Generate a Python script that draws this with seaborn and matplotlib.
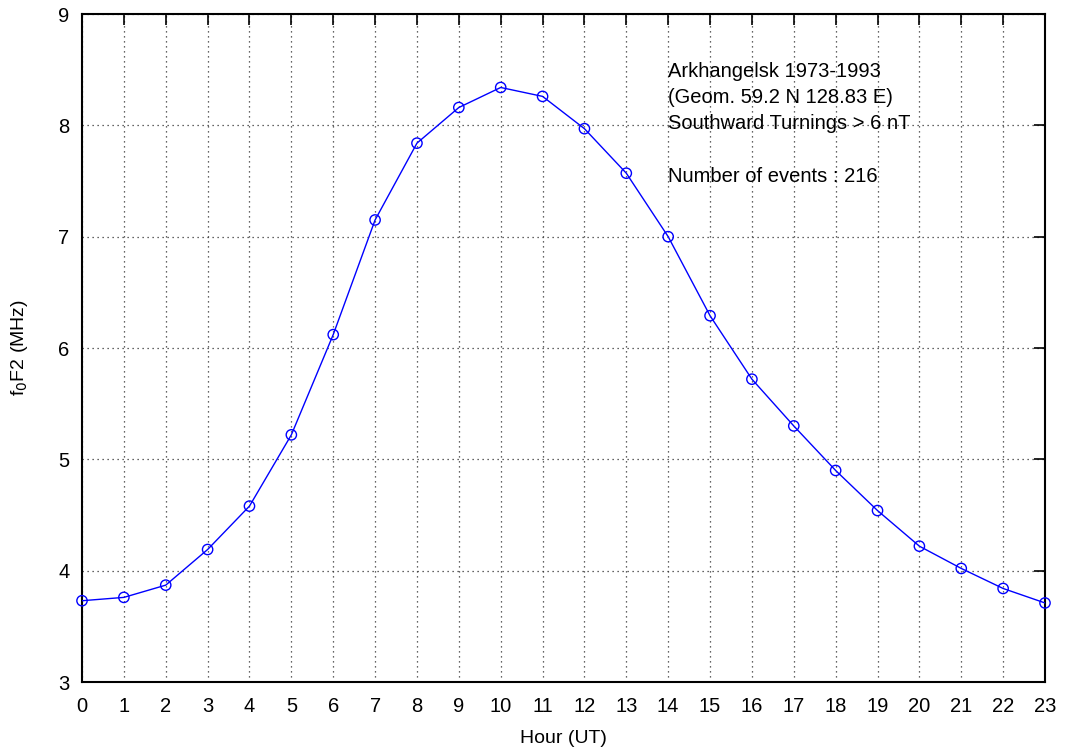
import numpy as np
import pandas as pd
import matplotlib
matplotlib.use("Agg")
import matplotlib.pyplot as plt
import seaborn as sns

hours = list(range(24))
fof2 = [3.73, 3.76, 3.87, 4.19, 4.58, 5.22, 6.12, 7.15, 7.84, 8.16, 8.34, 8.26,
        7.97, 7.57, 7.00, 6.29, 5.72, 5.30, 4.90, 4.54, 4.22, 4.02, 3.84, 3.71]
info_lines = ["Arkhangelsk 1973-1993", "(Geom. 59.2 N 128.83 E)",
              "Southward Turnings > 6 nT", "", "Number of events : 216"]

sns.set_theme(style="white")
plt.rcParams['font.family'] = ['Liberation Sans', 'DejaVu Sans']
plt.rcParams['text.color'] = 'black'
plt.rcParams['axes.labelcolor'] = 'black'
plt.rcParams['xtick.color'] = 'black'
plt.rcParams['ytick.color'] = 'black'

df = pd.DataFrame({"hour": hours, "fof2": fof2})

fig = plt.figure(figsize=(10.69, 7.53), dpi=100)
ax = fig.add_axes([82/1069, 1 - 682/753, (1045-82)/1069, (682-14)/753])

sns.lineplot(data=df, x="hour", y="fof2", ax=ax, color="#0000ff", linewidth=1.0,
             zorder=3)
sns.scatterplot(data=df, x="hour", y="fof2", ax=ax, marker="o", s=55,
                facecolors="none", edgecolor="#0000ff", linewidth=1.0,
                zorder=4, clip_on=False)

ax.set_xlim(0, 23)
ax.set_ylim(3, 9)
ax.set_xticks(hours)
ax.set_yticks(range(3, 10))
ax.tick_params(axis="both", direction="in", length=8, width=1.2, labelsize=14.5,
               top=True, right=True, colors="black")
ax.tick_params(axis="x", pad=11)
ax.tick_params(axis="y", pad=9)
ax.grid(True, linestyle=(0, (1, 3)), color="#333333", linewidth=0.9)
for s in ax.spines.values():
    s.set_color("black")
    s.set_linewidth(1.5)
    s.set_visible(True)

ax.set_xlabel("Hour (UT)", fontsize=14, labelpad=10)
ax.set_ylabel("f$_0$F2 (MHz)", fontsize=14, labelpad=20)

y0 = 8.48
for i, line in enumerate(info_lines):
    if line:
        ax.text(14.0, y0 - i * 0.234, line, fontsize=14.5, va="center", ha="left",
                color="black")

fig.savefig("out.png", dpi=100)
